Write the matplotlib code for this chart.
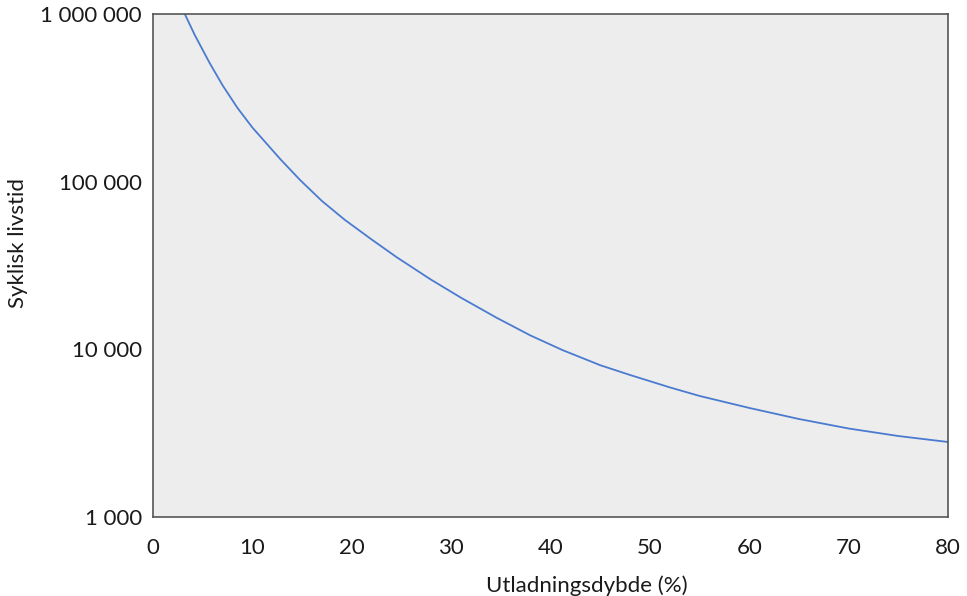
import numpy as np
import matplotlib.pyplot as plt
from matplotlib.ticker import FixedLocator, FixedFormatter

# depth of discharge (%) vs cyclic lifetime
dod = [3.2, 4.2, 5.7, 7.0, 8.5, 10.0, 12.8, 14.8, 17.0, 19.3, 22.0, 24.5,
       27.9, 31.0, 34.6, 38.0, 41.2, 45.0, 48.0, 52.0, 55.0, 60.0, 65.0,
       70.0, 75.0, 80.0]
cycles = [1000000, 750000, 510500, 375800, 275400, 210400, 136500, 102300,
          76700, 59200, 45200, 35500, 26200, 20300, 15400, 12080, 9900,
          8040, 7030, 5930, 5270, 4470, 3840, 3370, 3040, 2800]

yticks = [1000, 10000, 100000, 1000000]
ylabels = ['1 000', '10 000', '100 000', '1 000 000']
xticks = [0, 10, 20, 30, 40, 50, 60, 70, 80]

plt.rcParams['font.family'] = ['Lato', 'DejaVu Sans']

fig = plt.figure(figsize=(9.67, 5.96), dpi=100)
ax = fig.add_axes([0.1582, 0.1326, 0.8222, 0.8439])
ax.set_facecolor('#ededed')

ax.plot(dod, cycles, color='#4a7bd0', lw=1.3)

ax.set_yscale('log')
ax.set_xlim(0, 80)
ax.set_ylim(1000, 1000000)
ax.yaxis.set_major_locator(FixedLocator(yticks))
ax.yaxis.set_major_formatter(FixedFormatter(ylabels))
ax.yaxis.set_minor_locator(FixedLocator([]))
ax.set_xticks(xticks)

ax.tick_params(axis='both', length=0, labelsize=16, colors='#1a1a1a')
ax.tick_params(axis='x', pad=15)
ax.tick_params(axis='y', pad=8)

for s in ax.spines.values():
    s.set_color('#555555')
    s.set_linewidth(1.2)

ax.set_xlabel('Utladningsdybde (%)', fontsize=16, color='#1a1a1a')
ax.set_ylabel('Syklisk livstid', fontsize=16, color='#1a1a1a')
ax.xaxis.set_label_coords(0.546, -0.117)
ax.yaxis.set_label_coords(-0.157, 0.545)

fig.savefig('out.png', dpi=100)
